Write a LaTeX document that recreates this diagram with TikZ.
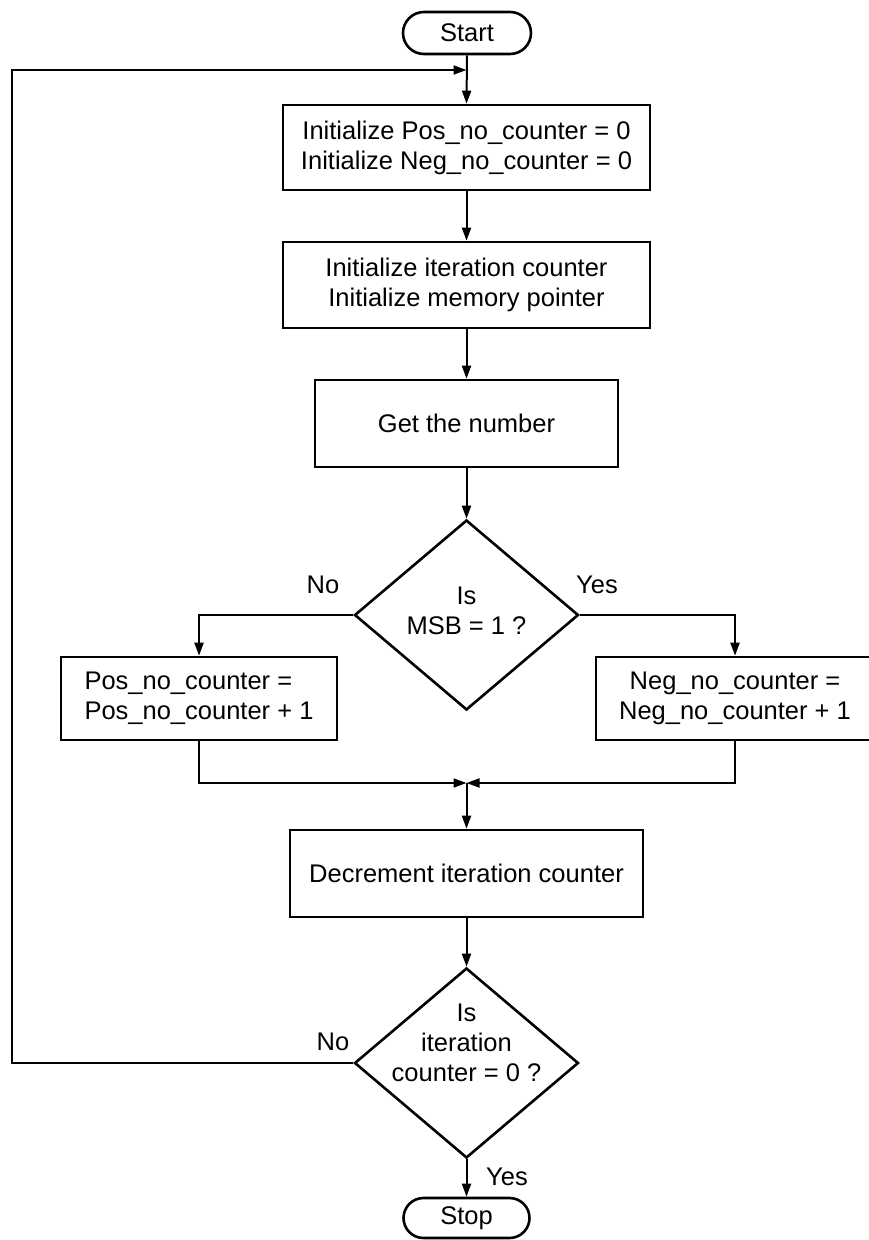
\documentclass[tikz,border=0pt]{standalone}
\usepackage{fontspec}
\setmainfont{Liberation Sans}
\usetikzlibrary{shapes.geometric,shapes.misc,arrows.meta}
\begin{document}
\begin{tikzpicture}[x=1pt,y=-1pt,
  every node/.style={font=\fontsize{25.5}{30}\selectfont},
  box/.style={draw,line width=2.6pt,rectangle,align=center,inner sep=0pt},
  term/.style={draw,line width=2.6pt,rounded rectangle,inner sep=0pt},
  dec/.style={draw,line width=2.6pt,diamond,inner sep=0pt,minimum width=224pt,minimum height=190pt},
  txt/.style={align=center,inner sep=0pt},
  conn/.style={line width=2pt,-{Triangle[length=13pt,width=9pt]}}]
\useasboundingbox[fill=white] (0,0) rectangle (868,1240);

\node[term,minimum width=128pt,minimum height=42pt] (start) at (467,33) {Start};
\node[box,minimum width=367pt,minimum height=85pt] (b1) at (466.5,147.5)
  {Initialize Pos\_no\_counter = 0\\Initialize Neg\_no\_counter = 0};
\node[box,minimum width=367pt,minimum height=86pt] (b2) at (466.5,285)
  {Initialize iteration counter\\Initialize memory pointer};
\node[box,minimum width=303pt,minimum height=87pt] (b3) at (466.5,423.5)
  {Get the number};
\node[dec] (d1) at (466.5,615) {};
\node[txt] (d1t) at (466.5,611) {Is\\MSB = 1 ?};
\node[box,align=left,minimum width=276pt,minimum height=83pt] (lb) at (199,698.5)
  {Pos\_no\_counter =\\Pos\_no\_counter + 1};
\node[box,minimum width=278pt,minimum height=83pt] (rb) at (735,698.5)
  {Neg\_no\_counter =\\Neg\_no\_counter + 1};
\coordinate (m) at (466.5,783);
\node[box,minimum width=353pt,minimum height=87pt] (b4) at (466.5,873.5)
  {Decrement iteration counter};
\node[dec] (d2) at (466.5,1063) {};
\node[txt] (d2t) at (466.5,1043) {Is\\iteration\\counter = 0 ?};
\node[term,minimum width=126pt,minimum height=40pt] (stop) at (466.5,1218) {Stop};

\node[txt] (no1) at (323,585) {No};
\node[txt] (yes1) at (597,585) {Yes};
\node[txt] (no2) at (333,1042) {No};
\node[txt] (yes2) at (507,1177) {Yes};

\coordinate (lp1) at (12,1063);
\coordinate (lp2) at (12,70);
\coordinate (lj) at (466.5,70);

\draw[conn] (start.south) -- (b1.north);
\draw[conn] (d2.west) -- (lp1) -- (lp2) -- (lj);
\draw[conn] (b1.south) -- (b2.north);
\draw[conn] (b2.south) -- (b3.north);
\draw[conn] (b3.south) -- (d1.north);
\draw[conn] (d1.west) -| (lb.north);
\draw[conn] (d1.east) -| (rb.north);
\draw[conn] (lb.south) |- (m);
\draw[conn] (rb.south) |- (m);
\draw[conn] (m) -- (b4.north);
\draw[conn] (b4.south) -- (d2.north);
\draw[conn] (d2.south) -- (stop.north);
\end{tikzpicture}
\end{document}
